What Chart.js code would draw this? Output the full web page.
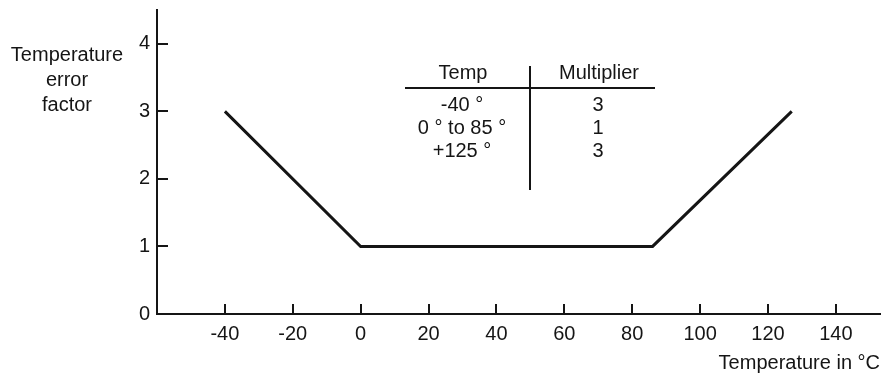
<!DOCTYPE html>
<html>
<head>
<meta charset="utf-8">
<script src="https://cdn.jsdelivr.net/npm/chart.js@4"></script>
<style>
html,body{margin:0;padding:0;background:#fff;}
#wrap{width:882px;height:374px;}
</style>
</head>
<body>
<div id="wrap"><canvas id="c" width="882" height="374"></canvas></div>
<script>
// Data
const temperatures = [-40, 0, 86, 127];
const errorFactors = [3, 1, 1, 3];
const xTickValues = [-40, -20, 0, 20, 40, 60, 80, 100, 120, 140];
const yTickValues = [0, 1, 2, 3, 4];
const tableHeader = ['Temp', 'Multiplier'];
const tableTemps = ['-40 °', '0 ° to 85 °', '+125 °'];
const tableMultipliers = ['3', '1', '3'];
const yTitleLines = ['Temperature', 'error', 'factor'];
const xTitle = 'Temperature in °C';

const FONT = '"Liberation Sans", Arial, sans-serif';
const INK = '#151515';
const FS = 20;

const tickMarks = {
  id: 'tickMarks',
  afterDraw(chart) {
    const ctx = chart.ctx;
    const xs = chart.scales.x, ys = chart.scales.y;
    const area = chart.chartArea;
    ctx.save();
    ctx.strokeStyle = INK;
    ctx.lineWidth = 2;
    ctx.beginPath();
    xs.ticks.forEach(t => {
      const px = Math.round(xs.getPixelForValue(t.value));
      ctx.moveTo(px, area.bottom);
      ctx.lineTo(px, area.bottom - 10);
    });
    ys.ticks.forEach(t => {
      const py = Math.round(ys.getPixelForValue(t.value));
      ctx.moveTo(area.left, py);
      ctx.lineTo(area.left + 11, py);
    });
    ctx.stroke();
    ctx.restore();
  }
};

const annotations = {
  id: 'annotations',
  afterDraw(chart) {
    const ctx = chart.ctx;
    ctx.save();
    ctx.fillStyle = INK;
    ctx.font = FS + 'px ' + FONT;
    ctx.textBaseline = 'alphabetic';
    // y-axis title (horizontal, three centered lines)
    ctx.textAlign = 'center';
    yTitleLines.forEach((s, i) => ctx.fillText(s, 67, 60.5 + 25 * i));
    // x-axis title
    ctx.textAlign = 'right';
    ctx.fillText(xTitle, 880, 368.5);
    // table
    ctx.textAlign = 'center';
    ctx.fillText(tableHeader[0], 463, 79);
    ctx.fillText(tableHeader[1], 599, 79);
    tableTemps.forEach((s, i) => ctx.fillText(s, 462, 111 + 23 * i));
    tableMultipliers.forEach((s, i) => ctx.fillText(s, 598, 111 + 23 * i));
    ctx.strokeStyle = INK;
    ctx.lineWidth = 2;
    ctx.beginPath();
    ctx.moveTo(405, 88); ctx.lineTo(655, 88);
    ctx.moveTo(530, 66); ctx.lineTo(530, 190);
    ctx.stroke();
    ctx.restore();
  }
};

new Chart(document.getElementById('c'), {
  type: 'scatter',
  data: {
    datasets: [{
      data: temperatures.map((t, i) => ({x: t, y: errorFactors[i]})),
      showLine: true,
      borderColor: INK,
      backgroundColor: INK,
      borderWidth: 3,
      pointRadius: 0,
      tension: 0,
      clip: false
    }]
  },
  options: {
    responsive: false,
    devicePixelRatio: 1,
    animation: false,
    layout: { padding: { top: 10, left: 0, right: 2, bottom: 0 } },
    plugins: { legend: { display: false }, tooltip: { enabled: false } },
    scales: {
      x: {
        type: 'linear',
        min: -60, max: 153,
        afterBuildTicks: s => { s.ticks = xTickValues.map(v => ({value: v})); },
        afterFit: s => { s.height = 60; s.paddingLeft = 0; s.paddingRight = 0; },
        grid: { display: false, drawTicks: false },
        border: { display: true, color: INK, width: 2 },
        ticks: { color: INK, padding: 8, maxRotation: 0, autoSkip: false, font: { family: FONT, size: FS } }
      },
      y: {
        type: 'linear',
        min: 0, max: 4.5,
        afterBuildTicks: s => { s.ticks = yTickValues.map(v => ({value: v})); },
        afterFit: s => { s.width = 157; s.paddingTop = 0; s.paddingBottom = 0; },
        grid: { display: false, drawTicks: false },
        border: { display: true, color: INK, width: 2 },
        ticks: { color: INK, padding: 7, autoSkip: false, font: { family: FONT, size: FS } }
      }
    }
  },
  plugins: [tickMarks, annotations]
});
</script>
</body>
</html>
